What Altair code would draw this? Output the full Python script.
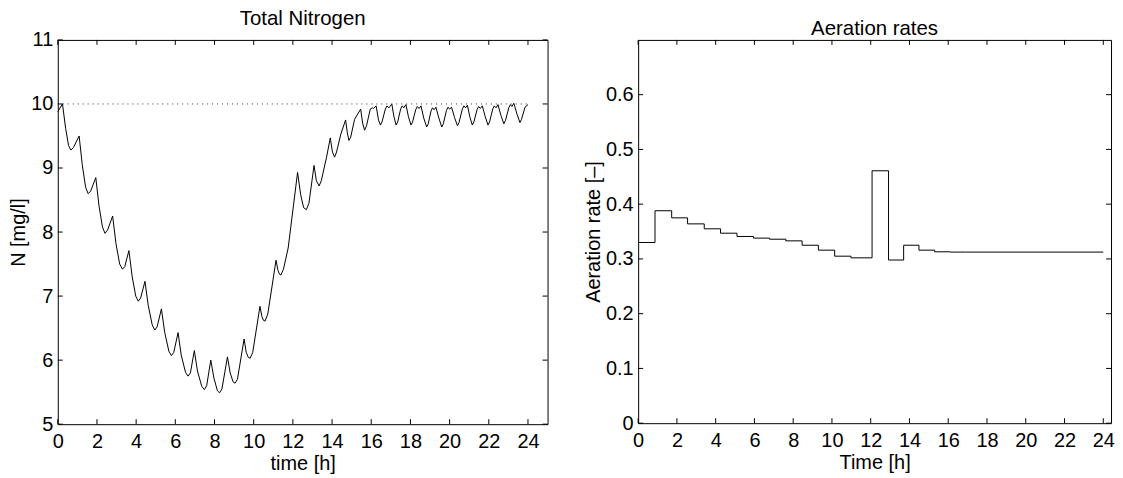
import altair as alt
import pandas as pd

# ---------------- data: total nitrogen ----------------
n_time = [
    0.00, 0.24, 0.40, 0.55, 0.67, 0.80, 1.09, 1.25, 1.42, 1.55, 1.68, 1.94,
    2.10, 2.28, 2.41, 2.54, 2.80, 2.97, 3.16, 3.30, 3.42, 3.63, 3.80, 3.98,
    4.11, 4.23, 4.45, 4.62, 4.82, 4.95, 5.07, 5.29, 5.46, 5.67, 5.80, 5.92,
    6.14, 6.30, 6.52, 6.65, 6.77, 6.97, 7.13, 7.35, 7.48, 7.60, 7.81, 7.97,
    8.15, 8.26, 8.38, 8.66, 8.80, 8.95, 9.05, 9.17, 9.51, 9.62, 9.73, 9.82,
    9.95, 10.32, 10.42, 10.50, 10.58, 10.72, 11.14, 11.24, 11.32, 11.39, 11.52,
    11.76, 12.24, 12.40, 12.55, 12.69, 12.82, 13.08, 13.20, 13.34, 13.45, 13.72,
    13.91, 14.02, 14.13, 14.23, 14.45, 14.69, 14.78, 14.86, 14.95, 15.15, 15.46,
    15.56, 15.66, 15.76, 15.95, 16.05, 16.12, 16.25, 16.37, 16.47, 16.55, 16.72,
    16.80, 16.90, 17.05, 17.16, 17.27, 17.35, 17.50, 17.58, 17.66, 17.77, 17.90,
    18.03, 18.11, 18.27, 18.35, 18.44, 18.54, 18.68, 18.83, 18.91, 19.05, 19.13,
    19.21, 19.30, 19.45, 19.60, 19.68, 19.84, 19.92, 20.00, 20.10, 20.25, 20.40,
    20.48, 20.65, 20.73, 20.82, 20.91, 21.03, 21.16, 21.24, 21.40, 21.48, 21.57,
    21.67, 21.82, 21.96, 22.04, 22.20, 22.28, 22.37, 22.47, 22.62, 22.77, 22.85,
    23.02, 23.10, 23.18, 23.28, 23.44, 23.59, 23.67, 23.85, 24.00,
]
n_value = [
    9.88, 10.00, 9.62, 9.35, 9.28, 9.32, 9.50, 9.05, 8.70, 8.60, 8.64, 8.85,
    8.42, 8.08, 7.98, 8.03, 8.25, 7.82, 7.50, 7.42, 7.46, 7.71, 7.30, 7.00,
    6.92, 6.97, 7.23, 6.85, 6.55, 6.47, 6.52, 6.80, 6.43, 6.14, 6.07, 6.12,
    6.43, 6.08, 5.81, 5.75, 5.80, 6.15, 5.83, 5.59, 5.54, 5.60, 6.00, 5.72,
    5.52, 5.49, 5.55, 6.05, 5.80, 5.66, 5.64, 5.70, 6.33, 6.12, 6.04, 6.03,
    6.12, 6.84, 6.68, 6.62, 6.61, 6.72, 7.56, 7.40, 7.34, 7.33, 7.42,
    7.75, 8.93, 8.58, 8.38, 8.35, 8.45, 9.04, 8.80, 8.72, 8.80, 9.17,
    9.47, 9.25, 9.17, 9.25, 9.53, 9.75, 9.55, 9.43, 9.48, 9.76, 9.92,
    9.70, 9.59, 9.66, 9.92, 9.94, 9.93, 9.97, 9.75, 9.67, 9.72, 9.92,
    9.97, 9.94, 10.00, 9.80, 9.67, 9.72, 9.92, 9.97, 9.94, 9.99, 9.80,
    9.67, 9.72, 9.91, 9.96, 9.93, 9.97, 9.78, 9.64, 9.69, 9.89, 9.94,
    9.91, 9.95, 9.78, 9.64, 9.69, 9.90, 9.95, 9.92, 9.95, 9.79, 9.66,
    9.71, 9.92, 9.97, 9.94, 9.98, 9.80, 9.67, 9.72, 9.91, 9.96, 9.93,
    9.97, 9.80, 9.67, 9.72, 9.92, 9.97, 9.94, 9.99, 9.82, 9.69, 9.74,
    9.94, 9.99, 9.96, 10.01, 9.84, 9.71, 9.76, 9.95, 9.99,
]

# reference (target) level, dotted
ref_level = [10.0]
ref_start = [0.0]
ref_end = [24.0]

# ---------------- data: aeration rates ----------------
a_time = [0.00, 0.87, 1.73, 2.55, 3.41, 4.25, 5.10, 5.95, 6.78, 7.62, 8.46,
          9.30, 10.14, 10.98, 12.07, 12.92, 13.70, 14.49, 15.30, 16.10,
          16.90, 24.00]
a_rate = [0.330, 0.388, 0.375, 0.364, 0.355, 0.347, 0.341, 0.338, 0.336,
          0.333, 0.325, 0.316, 0.305, 0.302, 0.461, 0.298, 0.325, 0.316,
          0.313, 0.3125, 0.3125, 0.3125]

# tick values
x_ticks = [0, 2, 4, 6, 8, 10, 12, 14, 16, 18, 20, 22, 24]
n_ticks = [5, 6, 7, 8, 9, 10, 11]
a_ticks = [0, 0.1, 0.2, 0.3, 0.4, 0.5, 0.6]

FONT = "Liberation Sans"
FS = 20
TFS = 20.5
TL = 5  # inward tick length (px)

LW, LH = 492, 386
RW, RH = 475, 385

n_df = pd.DataFrame({"t": n_time, "N": n_value})
ref_df = pd.DataFrame({"t": ref_start, "t2": ref_end, "N": ref_level})
a_df = pd.DataFrame({"t": a_time, "A": a_rate})
xt_df = pd.DataFrame({"t": x_ticks})
nt_df = pd.DataFrame({"N": n_ticks})
at_df = pd.DataFrame({"A": a_ticks})


def xaxis(title):
    return alt.Axis(title=title, values=x_ticks, ticks=False, tickSize=0,
                    domain=False, grid=False, labelPadding=7,
                    titlePadding=3, labelFlush=False)


def yaxis(title, values, fmt=None):
    kw = dict(title=title, values=values, ticks=False, tickSize=0,
              domain=False, grid=False, labelPadding=5, titlePadding=2,
              labelFlush=False)
    if fmt:
        kw["format"] = fmt
    return alt.Axis(**kw)


# ---------------- left panel ----------------
lx = alt.Scale(domain=[0, 25], nice=False, zero=False)
ly = alt.Scale(domain=[5, 11], nice=False, zero=False)
lxa = xaxis("time [h]")
lya = yaxis("N [mg/l]", n_ticks)

n_line = alt.Chart(n_df).mark_line(color="black", strokeWidth=1).encode(
    x=alt.X("t:Q", scale=lx, axis=lxa),
    y=alt.Y("N:Q", scale=ly, axis=lya),
    order="t:Q",
)
ref_rule = alt.Chart(ref_df).mark_rule(
    color="#333333", strokeWidth=1, strokeDash=[1, 4]
).encode(
    x=alt.X("t:Q", scale=lx, axis=lxa),
    x2="t2:Q",
    y=alt.Y("N:Q", scale=ly, axis=lya),
)
l_tb = alt.Chart(xt_df).mark_rule(color="black").encode(
    x=alt.X("t:Q", scale=lx, axis=lxa), y=alt.value(LH), y2=alt.value(LH - TL))
l_tt = alt.Chart(xt_df).mark_rule(color="black").encode(
    x=alt.X("t:Q", scale=lx, axis=lxa), y=alt.value(0), y2=alt.value(TL))
l_tl = alt.Chart(nt_df).mark_rule(color="black").encode(
    y=alt.Y("N:Q", scale=ly, axis=lya), x=alt.value(0), x2=alt.value(TL))
l_tr = alt.Chart(nt_df).mark_rule(color="black").encode(
    y=alt.Y("N:Q", scale=ly, axis=lya), x=alt.value(LW), x2=alt.value(LW - TL))

left = alt.layer(n_line, ref_rule, l_tb, l_tt, l_tl, l_tr).properties(
    width=LW, height=LH,
    title=alt.TitleParams("Total Nitrogen", fontSize=TFS, font=FONT,
                          fontWeight="normal", color="black", offset=0),
)

# ---------------- right panel ----------------
rx = alt.Scale(domain=[0, 24.4], nice=False, zero=False)
ry = alt.Scale(domain=[0, 0.7], nice=False, zero=False)
rxa = xaxis("Time [h]")
rya = yaxis("Aeration rate [–]", a_ticks, ".1~f")

a_line = alt.Chart(a_df).mark_line(
    color="black", strokeWidth=1, interpolate="step-after"
).encode(
    x=alt.X("t:Q", scale=rx, axis=rxa),
    y=alt.Y("A:Q", scale=ry, axis=rya),
    order="t:Q",
)
r_tb = alt.Chart(xt_df).mark_rule(color="black").encode(
    x=alt.X("t:Q", scale=rx, axis=rxa), y=alt.value(RH), y2=alt.value(RH - TL))
r_tt = alt.Chart(xt_df).mark_rule(color="black").encode(
    x=alt.X("t:Q", scale=rx, axis=rxa), y=alt.value(0), y2=alt.value(TL))
r_tl = alt.Chart(at_df).mark_rule(color="black").encode(
    y=alt.Y("A:Q", scale=ry, axis=rya), x=alt.value(0), x2=alt.value(TL))
r_tr = alt.Chart(at_df).mark_rule(color="black").encode(
    y=alt.Y("A:Q", scale=ry, axis=rya), x=alt.value(RW), x2=alt.value(RW - TL))

right = alt.layer(a_line, r_tb, r_tt, r_tl, r_tr).properties(
    width=RW, height=RH,
    title=alt.TitleParams("Aeration rates", fontSize=TFS, font=FONT,
                          fontWeight="normal", color="black", offset=0),
)

chart = alt.hconcat(left, right, spacing=34).properties(
    padding={"left": 0, "right": 0, "top": 0, "bottom": 0},
    background="white",
).configure_view(
    stroke="black", strokeWidth=1
).configure_axis(
    labelFont=FONT, labelFontSize=FS, labelColor="black",
    titleFont=FONT, titleFontSize=FS, titleColor="black",
    titleFontWeight="normal",
)

chart.save("out.html", embed_options={"renderer": "svg", "actions": False})
